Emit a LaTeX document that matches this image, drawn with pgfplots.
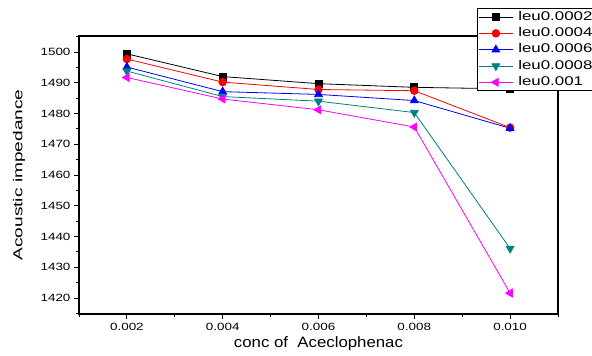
\documentclass[border=0pt]{standalone}
\usepackage{fontspec}
\setmainfont{Liberation Sans}
\usepackage{graphicx}
\usepackage{pgfplots}
\pgfplotsset{compat=1.18}
\definecolor{cteal}{RGB}{0,128,128}
\definecolor{cmag}{RGB}{255,0,255}
\newcommand{\tl}[1]{\scalebox{1.28}[1]{#1}}
\newcommand{\lgt}[1]{\scalebox{1.34}[1]{#1}}
\begin{document}
\begin{tikzpicture}[x=1pt,y=1pt]
\useasboundingbox (-79,-42) rectangle (513,314);
\clip (-79,-42) rectangle (513,314);
\begin{axis}[
  at={(0,0)}, anchor=south west,
  scale only axis, width=479pt, height=278pt,
  xmin=0.001, xmax=0.011, ymin=1414.8, ymax=1505.2,
  scaled x ticks=false,
  xtick={0.002,0.004,0.006,0.008,0.010},
  xticklabels={\tl{0.002},\tl{0.004},\tl{0.006},\tl{0.008},\tl{0.010}},
  minor xtick={0.001,0.003,0.005,0.007,0.009,0.011},
  ytick={1420,1430,1440,1450,1460,1470,1480,1490,1500},
  yticklabels={\tl{1420},\tl{1430},\tl{1440},\tl{1450},\tl{1460},\tl{1470},\tl{1480},\tl{1490},\tl{1500}},
  minor ytick={1415,1425,1435,1445,1455,1465,1475,1485,1495,1505},
  tick pos=left, tick align=outside,
  major tick length=5pt, minor tick length=3pt,
  every tick/.style={black, line width=0.9pt},
  axis line style={line width=1.2pt},
  tick label style={font=\fontsize{10.5}{12}\selectfont},
  xticklabel style={yshift=-1pt},
  xlabel={\scalebox{1.12}[1]{conc of\ \ Aceclophenac}},
  ylabel={\scalebox{1.47}[1]{Acoustic impedance}},
  xlabel style={font=\fontsize{15}{17}\selectfont, at={(axis description cs:0.5,-0.108)}, anchor=center},
  ylabel style={font=\fontsize{13}{15}\selectfont, at={(axis description cs:-0.125,0.5)}, anchor=center},
  legend style={at={(axis description cs:0.831,1.099)}, anchor=north west,
    draw=black, line width=0.9pt, fill=white,
    font=\fontsize{12.6}{14}\selectfont, row sep=2pt, column sep=4pt, inner sep=1pt,
    nodes={inner sep=1pt, text height=9.3pt, text depth=3pt},
    cells={anchor=west}},
  legend image code/.code={\draw[mark repeat=2,mark phase=2,#1] plot coordinates {(0pt,0pt)(17pt,0pt)(34pt,0pt)};},
  every axis plot/.append style={line width=0.8pt},
]
\addplot[black, mark=square*, mark size=3.5pt] coordinates {
 (0.002,1499.4) (0.004,1492.0) (0.006,1489.7) (0.008,1488.5) (0.010,1488.0)};
\addlegendentry{\lgt{leu0.0002}}
\addplot[red, mark=*, mark size=3.8pt] coordinates {
 (0.002,1497.7) (0.004,1490.2) (0.006,1487.8) (0.008,1487.4) (0.010,1475.4)};
\addlegendentry{\lgt{leu0.0004}}
\addplot[blue, mark=triangle*, mark size=4.5pt] coordinates {
 (0.002,1495.1) (0.004,1487.1) (0.006,1486.2) (0.008,1484.2) (0.010,1475.2)};
\addlegendentry{\lgt{leu0.0006}}
\addplot[cteal, mark=triangle*, mark size=4.5pt, mark options={rotate=180}] coordinates {
 (0.002,1493.8) (0.004,1485.5) (0.006,1484.0) (0.008,1480.3) (0.010,1436.1)};
\addlegendentry{\lgt{leu0.0008}}
\addplot[cmag, mark=triangle*, mark size=4.5pt, mark options={rotate=90}] coordinates {
 (0.002,1491.7) (0.004,1484.7) (0.006,1481.2) (0.008,1475.6) (0.010,1421.6)};
\addlegendentry{\lgt{leu0.001}}
\end{axis}
\end{tikzpicture}
\end{document}
